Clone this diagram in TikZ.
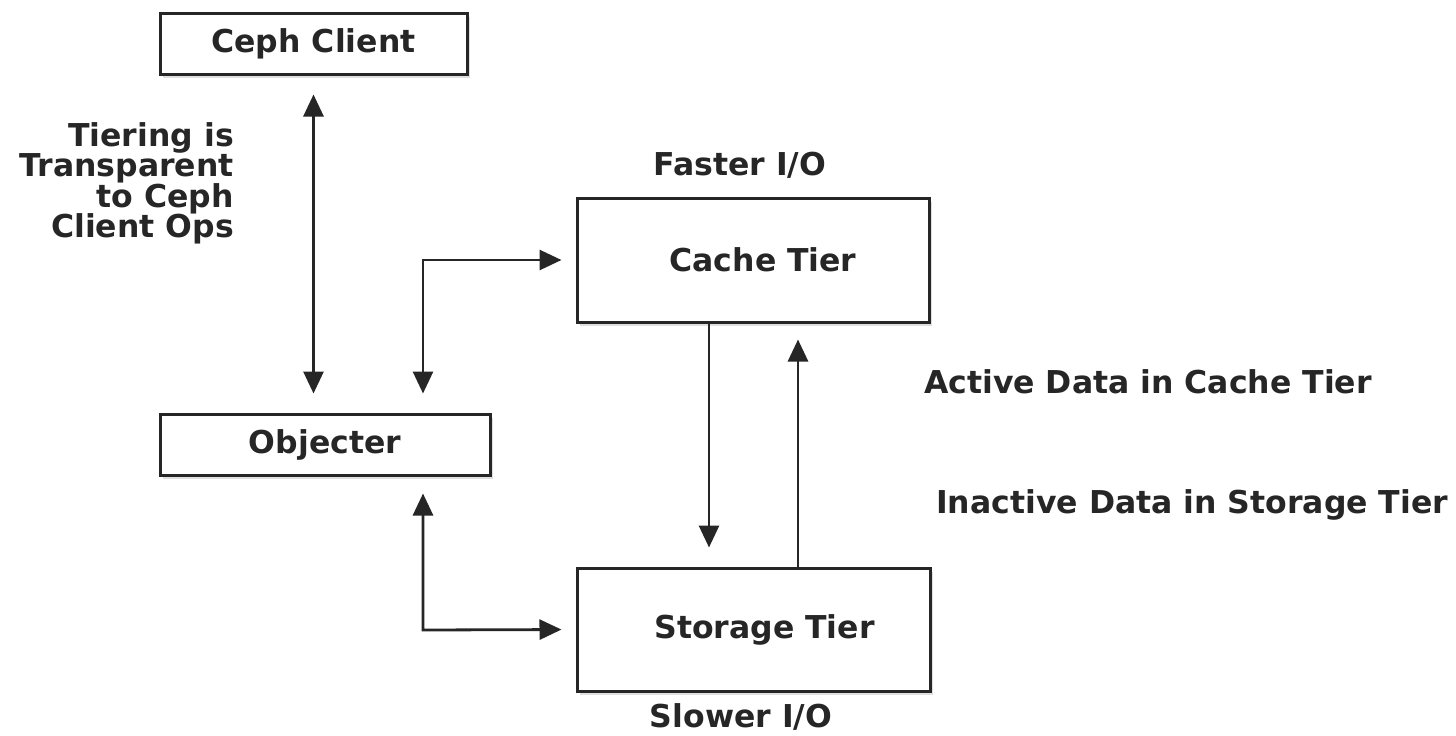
\documentclass[tikz,border=0pt]{standalone}
\usepackage{fontspec}
\setmainfont{DejaVu Sans}
\usetikzlibrary{arrows.meta,shadows}
\newcommand\tierfont{\fontsize{31.5}{30.5}\selectfont\bfseries\lineskiplimit=-50pt\relax\lineskip=0pt\relax}
\begin{document}
\begin{tikzpicture}[x=1pt,y=-1pt,
  every node/.style={font=\tierfont, text=black!85},
  tierbox/.style={draw=black!85, line width=3pt, fill=white, inner sep=0pt,
    drop shadow={shadow xshift=3pt, shadow yshift=-3.5pt, opacity=0.25}},
  conn/.style={draw=black!85, line width=2.8pt, -{Triangle[length=22pt,width=20pt]}},
  biconn/.style={draw=black!85, line width=2.8pt, {Triangle[length=22pt,width=20pt]}-{Triangle[length=22pt,width=20pt]}},
  lbl/.style={inner sep=0pt}]
\path[use as bounding box, fill=white] (0,0) rectangle (1456,736);

\node[tierbox, minimum width=307pt, minimum height=61pt] (client) at (313.5,43.5) {Ceph Client};
\node[tierbox, minimum width=330pt, minimum height=61pt] (obj) at (325,444.5) {Objecter};
\node[tierbox, minimum width=352pt, minimum height=124pt] (cache) at (753,260) {\kern20pt Cache Tier};
\node[tierbox, minimum width=353pt, minimum height=123pt] (storage) at (753.5,629.5) {\kern22pt Storage Tier};

\node[lbl, anchor=north east, align=right] (tiering) at (234,122)
  {Tiering is\\Transparent\\to Ceph\\Client Ops};
\node[lbl] (faster) at (740,165) {Faster I/O};
\node[lbl] (slower) at (741,717) {Slower I/O};
\node[lbl, anchor=west] (active) at (924,382) {Active Data in Cache Tier};
\node[lbl, anchor=west] (inactive) at (936,505) {Inactive Data in Storage Tier};

\coordinate (j1) at (423,260);
\coordinate (j2) at (423,630);
\coordinate (d1) at (709,322);
\coordinate (u1) at (798,568);

\draw[biconn, shorten <=19pt, shorten >=19pt] (client.south) -- (client.south |- obj.north);
\draw[biconn, shorten <=19pt, shorten >=14pt] (obj.north -| j1) -- (j1) -- (cache.west);
\draw[biconn, shorten <=17pt, shorten >=14pt] (obj.south -| j2) -- (j2) -- (storage.west);
\draw[conn, shorten >=19pt] (d1) -- (d1 |- storage.north);
\draw[conn, shorten >=16pt] (u1) -- (u1 |- cache.south);
\end{tikzpicture}
\end{document}
